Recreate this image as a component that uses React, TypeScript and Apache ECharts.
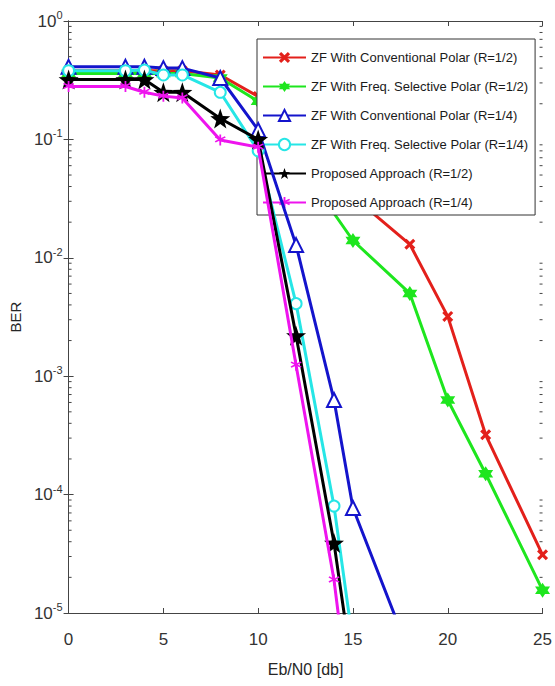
import React, { useEffect, useRef } from "react";
import * as echarts from "echarts";

// Eb/N0 values (dB) per series
const redX = [0, 3, 4, 5, 6, 8, 10, 12, 15, 18, 20, 22, 25];
const redY = [0.38, 0.38, 0.38, 0.38, 0.38, 0.35, 0.23, 0.1, 0.033, 0.013, 0.0032, 0.00032, 0.000031];

const greenX = [0, 3, 4, 5, 6, 8, 10, 12, 15, 18, 20, 22, 25];
const greenY = [0.36, 0.36, 0.36, 0.36, 0.36, 0.33, 0.21, 0.068, 0.014, 0.005, 0.00063, 0.00015, 0.0000156];

const blueX = [0, 3, 4, 5, 6, 8, 10, 12, 14, 15, 18];
const blueY = [0.41, 0.41, 0.41, 0.4, 0.4, 0.33, 0.12, 0.0128, 0.00063, 0.000077, 0.0000045];

const cyanX = [0, 3, 4, 5, 6, 8, 10, 12, 14, 15];
const cyanY = [0.38, 0.38, 0.385, 0.35, 0.35, 0.25, 0.08, 0.0041, 0.00008, 0.0000056];

const blackX = [0, 3, 4, 5, 6, 8, 10, 12, 14, 15];
const blackY = [0.32, 0.32, 0.32, 0.25, 0.25, 0.15, 0.1, 0.0022, 0.000039, 0.000003];

const magentaX = [0, 3, 4, 5, 6, 8, 10, 12, 14, 15];
const magentaY = [0.28, 0.28, 0.25, 0.232, 0.224, 0.099, 0.086, 0.00124, 0.000019, 0.000001];

const seriesNames = [
  "ZF With Conventional Polar (R=1/2)",
  "ZF With Freq. Selective Polar (R=1/2)",
  "ZF With Conventional Polar (R=1/4)",
  "ZF With Freq. Selective Polar (R=1/4)",
  "Proposed Approach (R=1/2)",
  "Proposed Approach (R=1/4)",
];

const minorMultipliers = [2, 3, 4, 5, 6, 7, 8, 9];
const decadeExps = [-5, -4, -3, -2, -1];

const X_SYM = "path://M2,0 L5,3 L8,0 L10,2 L7,5 L10,8 L8,10 L5,7 L2,10 L0,8 L3,5 L0,2 Z";
const HEX_SYM =
  "path://M5,0 L6.44,2.5 L9.33,2.5 L7.89,5 L9.33,7.5 L6.44,7.5 L5,10 L3.56,7.5 L0.67,7.5 L2.11,5 L0.67,2.5 L3.56,2.5 Z";
const STAR_SYM =
  "path://M5,0 L6.18,3.38 L9.76,3.45 L6.9,5.62 L7.94,9.05 L5,7 L2.06,9.05 L3.1,5.62 L0.24,3.45 L3.82,3.38 Z";
const AST_SYM =
  "path://M4.3,0 L5.7,0 L5.7,3.3 L8.6,1.6 L9.3,2.8 L6.4,4.5 L9.3,6.2 L8.6,7.4 L5.7,5.7 L5.7,10 L4.3,10 L4.3,5.7 L1.4,7.4 L0.7,6.2 L3.6,4.5 L0.7,2.8 L1.4,1.6 L4.3,3.3 Z";

const FONT = "'Liberation Sans', Arial, sans-serif";

function pairs(xs: number[], ys: number[]) {
  return xs.map((x, i) => [x, ys[i]]);
}

export default function App() {
  const ref = useRef<HTMLDivElement>(null);
  useEffect(() => {
    document.body.style.margin = "0";
    const chart = echarts.init(ref.current!, null, { renderer: "svg" });
    const minorVals: number[][] = [];
    decadeExps.forEach((e) => minorMultipliers.forEach((m) => minorVals.push([0, m * Math.pow(10, e)])));

    const mk = (
      name: string,
      color: string,
      xs: number[],
      ys: number[],
      symbol: string,
      size: number,
      z: number,
      empty = false
    ) => ({
      name,
      type: "line",
      data: pairs(xs, ys),
      symbol,
      symbolSize: size,
      showAllSymbol: true,
      z,
      lineStyle: { color, width: 3 },
      itemStyle: empty ? { color, borderColor: color, borderWidth: 2 } : { color, borderColor: color, borderWidth: 0 },
      clip: true,
    });

    chart.setOption({
      animation: false,
      backgroundColor: "#fff",
      grid: { left: 67, top: 21, width: 479, height: 592, containLabel: false },
      legend: {
        data: seriesNames,
        orient: "vertical",
        left: 257,
        top: 39,
        itemWidth: 43,
        itemHeight: 14,
        itemGap: 14,
        padding: [11, 7, 5, 5],
        backgroundColor: "#fff",
        borderColor: "#333",
        borderWidth: 1,
        textStyle: { fontFamily: FONT, fontSize: 13, lineHeight: 15, color: "#1a1a1a" },
      },
      xAxis: [
        {
          type: "value",
          min: 0,
          max: 25,
          interval: 5,
          name: "Eb/N0 [db]",
          nameLocation: "middle",
          nameGap: 48,
          nameTextStyle: { fontFamily: FONT, fontSize: 16, color: "#262626" },
          axisLine: { lineStyle: { color: "#444", width: 1 } },
          axisTick: { inside: true, length: 5, lineStyle: { color: "#444" } },
          axisLabel: { fontFamily: FONT, fontSize: 17, color: "#333", margin: 18 },
          splitLine: { show: false },
        },
        {
          type: "value",
          position: "top",
          min: 0,
          max: 25,
          interval: 5,
          axisLine: { show: true, lineStyle: { color: "#444", width: 1 } },
          axisTick: { inside: true, length: 5, lineStyle: { color: "#444" } },
          axisLabel: { show: false },
          splitLine: { show: false },
        },
      ],
      yAxis: [
        {
          type: "log",
          logBase: 10,
          min: 1e-5,
          max: 1,
          name: "BER",
          nameLocation: "middle",
          nameGap: 32,
          nameTextStyle: { fontFamily: FONT, fontSize: 15, color: "#262626" },
          axisLine: { show: true, lineStyle: { color: "#444", width: 1 } },
          axisTick: { show: true, inside: true, length: 5, lineStyle: { color: "#444" } },
          axisLabel: {
            margin: 6,
            formatter: (v: number) => `{b|10}{s|${Math.round(Math.log10(v))}}`,
            rich: {
              b: { fontFamily: FONT, fontSize: 17, color: "#333" },
              s: { fontFamily: FONT, fontSize: 11, color: "#333", padding: [0, 0, 12, 0] },
            },
          },
          splitLine: { show: false },
        },
        {
          type: "log",
          logBase: 10,
          position: "right",
          min: 1e-5,
          max: 1,
          axisLine: { show: true, lineStyle: { color: "#444", width: 1 } },
          axisTick: { show: true, inside: true, length: 5, lineStyle: { color: "#444" } },
          axisLabel: { show: false },
          splitLine: { show: false },
        },
      ],
      series: [
        mk(seriesNames[0], "#e3201b", redX, redY, X_SYM, 11, 2),
        mk(seriesNames[1], "#1ee61e", greenX, greenY, HEX_SYM, 15, 3),
        mk(seriesNames[2], "#1414cc", blueX, blueY, "emptyTriangle", 14, 4, true),
        mk(seriesNames[3], "#26e6e6", cyanX, cyanY, "emptyCircle", 11, 5, true),
        mk(seriesNames[4], "#000000", blackX, blackY, STAR_SYM, 20, 6),
        mk(seriesNames[5], "#ee14ee", magentaX, magentaY, AST_SYM, 11, 7),
        {
          type: "custom",
          name: "minorTicks",
          data: minorVals,
          silent: true,
          z: 1,
          renderItem: (params: any, api: any) => {
            const y = api.coord([0, api.value(1)])[1];
            const cs = params.coordSys;
            const st = { stroke: "#444", lineWidth: 1 };
            return {
              type: "group",
              children: [
                { type: "line", shape: { x1: cs.x, y1: y, x2: cs.x + 3, y2: y }, style: st },
                { type: "line", shape: { x1: cs.x + cs.width - 3, y1: y, x2: cs.x + cs.width, y2: y }, style: st },
              ],
            };
          },
        },
      ],
    });
    return () => chart.dispose();
  }, []);
  return <div ref={ref} style={{ width: 555, height: 686 }} />;
}
